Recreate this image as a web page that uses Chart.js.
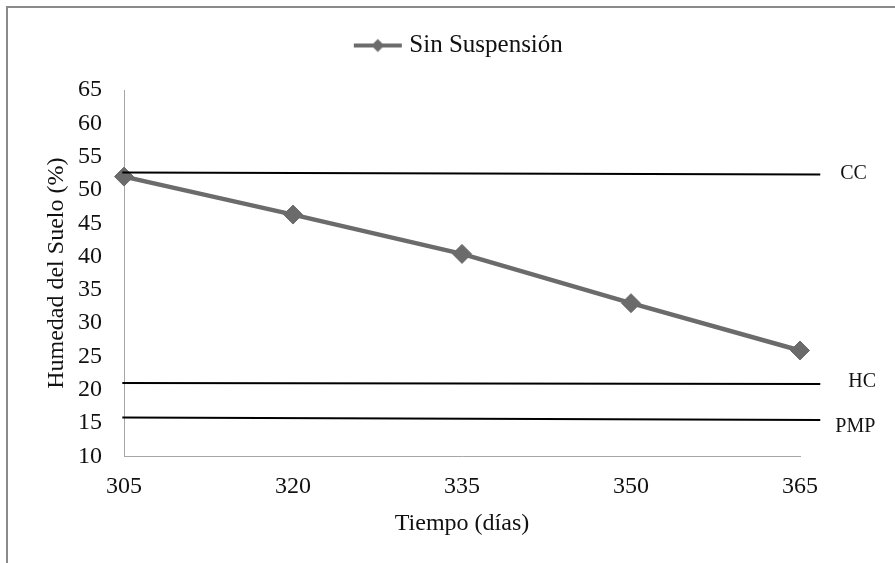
<!DOCTYPE html>
<html>
<head>
<meta charset="utf-8">
<script src="https://cdn.jsdelivr.net/npm/chart.js@4.4.1/dist/chart.umd.min.js"></script>
<style>
  html, body { margin: 0; background: #fff; }
  #wrap { width: 895px; height: 563px; position: relative; }
</style>
</head>
<body>
<div id="wrap"><canvas id="chart"></canvas></div>
<script>
// data
const days = [305, 320, 335, 350, 365];
const sinSuspension = [52.0, 46.3, 40.4, 33.0, 25.9];

// reference lines (capacidad de campo, humedad crítica, punto de marchitez)
const refDays = [304.85, 366.8];
const ccLine = [52.6, 52.3];
const hcLine = [21.0, 20.85];
const pmpLine = [15.85, 15.45];
const refNames = ["CC", "HC", "PMP"];

const GREY = "#6b6b6b";
const AXIS = "#a6a6a6";
const FONT = "'Liberation Serif', 'Times New Roman', serif";
const serif = (size) => ({ family: FONT, size: size });

Chart.defaults.font.family = FONT;
Chart.defaults.font.size = 24;
Chart.defaults.color = "#111";

// legend icon: line with diamond (drawn a little right of centre)
const legendIcon = document.createElement("canvas");
legendIcon.width = 56;
legendIcon.height = 18;
const ic = legendIcon.getContext("2d");
ic.strokeStyle = GREY;
ic.lineWidth = 4;
ic.beginPath();
ic.moveTo(7, 9);
ic.lineTo(55, 9);
ic.stroke();
ic.fillStyle = GREY;
ic.beginPath();
ic.moveTo(31, 2.5);
ic.lineTo(37.5, 9);
ic.lineTo(31, 15.5);
ic.lineTo(24.5, 9);
ic.closePath();
ic.fill();

const toPoints = (xs, ys) => xs.map((x, i) => ({ x: x, y: ys[i] }));

const refDataset = (name, values) => ({
  label: name,
  data: toPoints(refDays, values),
  borderColor: "#000",
  borderWidth: 2,
  pointRadius: 0,
  clip: false,
  order: 1,
});

// keep the legend block a fixed height so the plot starts where the original does
const legendSpacer = {
  id: "legendSpacer",
  beforeUpdate(chart) {
    const lg = chart.legend;
    if (lg && !lg._patched) {
      const fit = lg.fit;
      lg.fit = function () {
        fit.call(this);
        this.height = 67;
      };
      lg._patched = true;
    }
  },
};

const frame = {
  id: "frame",
  beforeDraw(chart) {
    const ctx = chart.ctx;
    ctx.save();
    ctx.strokeStyle = "#8a8a8a";
    ctx.lineWidth = 2;
    ctx.strokeRect(7, 7, 1000, 1000);
    ctx.restore();
  },
};

const labelOffsets = [[20, -1], [28, -2], [15, 7]];
const refLabels = {
  id: "refLabels",
  afterDatasetsDraw(chart) {
    const ctx = chart.ctx;
    const xs = chart.scales.x;
    const ys = chart.scales.y;
    const ends = [ccLine, hcLine, pmpLine];
    ctx.save();
    ctx.font = "20px " + FONT;
    ctx.fillStyle = "#111";
    ctx.textBaseline = "middle";
    ctx.textAlign = "left";
    refNames.forEach((name, i) => {
      const x = xs.getPixelForValue(refDays[1]) + labelOffsets[i][0];
      const y = ys.getPixelForValue(ends[i][1]) + labelOffsets[i][1];
      ctx.fillText(name, x, y);
    });
    ctx.restore();
  },
};

new Chart(document.getElementById("chart"), {
  type: "line",
  data: {
    datasets: [
      {
        label: "Sin Suspensión",
        data: toPoints(days, sinSuspension),
        borderColor: GREY,
        backgroundColor: GREY,
        borderWidth: 4.5,
        pointStyle: "rectRot",
        pointRadius: 9.5,
        pointBorderWidth: 1,
        pointBackgroundColor: GREY,
        pointBorderColor: GREY,
        clip: false,
        order: 2,
      },
      refDataset("CC", ccLine),
      refDataset("HC", hcLine),
      refDataset("PMP", pmpLine),
    ],
  },
  options: {
    responsive: true,
    maintainAspectRatio: false,
    animation: false,
    layout: { padding: { left: 38.6, right: 18, top: 23, bottom: 20.6 } },
    plugins: {
      tooltip: { enabled: false },
      legend: {
        position: "top",
        labels: {
          usePointStyle: true,
          pointStyleWidth: 44,
          padding: 10,
          font: serif(25),
          color: "#111",
          generateLabels: () => [
            {
              text: "Sin Suspensión",
              pointStyle: legendIcon,
              fillStyle: GREY,
              strokeStyle: GREY,
              lineWidth: 0,
              datasetIndex: 0,
              fontColor: "#111",
            },
          ],
        },
      },
    },
    scales: {
      x: {
        type: "linear",
        min: 305,
        max: 365,
        grid: { display: false, drawTicks: false },
        border: { display: true, color: AXIS, width: 1 },
        ticks: { stepSize: 15, padding: 15.6, font: serif(24), color: "#111" },
        title: { display: true, text: "Tiempo (días)", font: serif(24), color: "#111" },
        afterFit: (s) => { s.height = 86; },
      },
      y: {
        min: 10,
        max: 65,
        grid: { display: false, drawTicks: false },
        border: { display: true, color: AXIS, width: 1 },
        ticks: { stepSize: 5, padding: 22, font: serif(24), color: "#111" },
        title: { display: true, text: "Humedad del Suelo (%)", font: serif(24), color: "#111" },
        afterFit: (s) => { s.width = 85.4; },
      },
      spacer: {
        position: "right",
        display: true,
        grid: { display: false, drawTicks: false },
        border: { display: false },
        ticks: { display: false },
        afterFit: (s) => { s.width = 77; },
      },
    },
  },
  plugins: [legendSpacer, frame, refLabels],
});
</script>
</body>
</html>
